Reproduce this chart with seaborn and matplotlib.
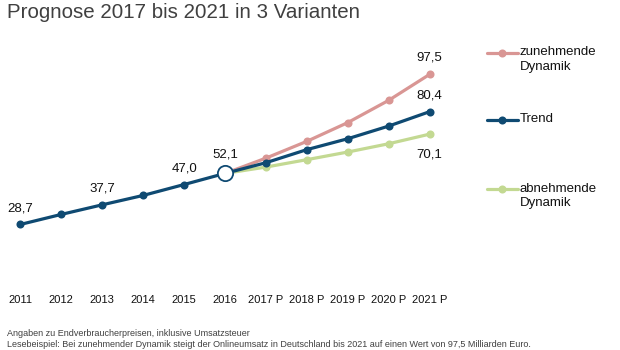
import matplotlib.pyplot as plt
import seaborn as sns
from matplotlib.lines import Line2D

# data (Mrd. Euro)
years = ['2011', '2012', '2013', '2014', '2015', '2016',
         '2017 P', '2018 P', '2019 P', '2020 P', '2021 P']
trend = [28.7, 33.3, 37.7, 42.0, 47.0, 52.1, 57.0, 63.0, 68.0, 73.8, 80.4]
# the two variants start from the 2016 value
zunehmend = [52.1, 59.1, 66.8, 75.4, 85.6, 97.5]
abnehmend = [52.1, 55.0, 58.4, 61.9, 65.7, 70.1]
names = ['zunehmende\nDynamik', 'Trend', 'abnehmende\nDynamik']

PINK = '#D99694'
NAVY = '#0F4A72'
GREEN = '#C3D992'
GREY = '#404040'

sns.set_style('white')
plt.rcParams['font.family'] = ['Liberation Sans', 'DejaVu Sans']

fig = plt.figure(figsize=(6.2, 3.5), dpi=100)
ax = fig.add_axes([0, 63 / 350, 450 / 620, 237 / 350])

x = list(range(len(years)))
xf = x[5:]

def fmt(v):
    return f'{v:.1f}'.replace('.', ',')

line_kw = dict(linewidth=2.3, marker='o', markersize=5.8, markeredgewidth=0)
sns.lineplot(x=xf, y=zunehmend, ax=ax, color=PINK, **line_kw)
sns.lineplot(x=xf, y=abnehmend, ax=ax, color=GREEN, **line_kw)
sns.lineplot(x=x, y=trend, ax=ax, color=NAVY, **line_kw)
# 2016 as open circle (last actual value)
ax.plot(x[5], trend[5], marker='o', markersize=11, markerfacecolor='white',
        markeredgecolor=NAVY, markeredgewidth=1.3, zorder=5)

ax.set_xlim(-0.5, 10.5)
ax.set_ylim(0, 108.7)
ax.set_xticks(x)
ax.set_xticklabels(years, fontsize=8, color='#111111')
ax.tick_params(axis='x', length=0, pad=6)
ax.set_yticks([])
sns.despine(ax=ax, left=True, bottom=True)

# value labels
lab = dict(textcoords='offset points', ha='center', va='center', fontsize=9.5, color='#111111')
for i in [0, 2, 4]:
    ax.annotate(fmt(trend[i]), (x[i], trend[i]), xytext=(0, 11.5), **lab)
ax.annotate(fmt(trend[5]), (x[5], trend[5]), xytext=(0, 13.5), **lab)
ax.annotate(fmt(trend[-1]), (x[-1], trend[-1]), xytext=(0, 12), **lab)
ax.annotate(fmt(zunehmend[-1]), (x[-1], zunehmend[-1]), xytext=(0, 12), **lab)
ax.annotate(fmt(abnehmend[-1]), (x[-1], abnehmend[-1]), xytext=(0, -14.5), **lab)

# legend, drawn by hand to keep the uneven spacing
W, H = 620, 350
for name, col, yh, yt in zip(names, [PINK, NAVY, GREEN], [52.5, 120, 189], [52.5, 120, 189]):
    fig.add_artist(Line2D([487 / W, 502 / W, 518 / W], [1 - yh / H] * 3, color=col,
                          linewidth=2.3, marker='o', markersize=5.8, markeredgewidth=0,
                          markevery=[1], transform=fig.transFigure))
    # anchor the first line of the label on the handle
    fig.text(520 / W, 1 - (yt - 6.5) / H, name, fontsize=9.5, color='#111111', va='top',
             ha='left', linespacing=1.3)

fig.text(7 / W, 1 - 12 / H, 'Prognose 2017 bis 2021 in 3 Varianten', fontsize=14.8,
         color=GREY, va='center', ha='left')
fig.text(7 / W, 1 - 333 / H, 'Angaben zu Endverbraucherpreisen, inklusive Umsatzsteuer',
         fontsize=6.5, color=GREY, va='center', ha='left')
fig.text(7 / W, 1 - 344.5 / H,
         'Lesebeispiel: Bei zunehmender Dynamik steigt der Onlineumsatz in Deutschland bis 2021 '
         'auf einen Wert von 97,5 Milliarden Euro.',
         fontsize=6.5, color=GREY, va='center', ha='left')

fig.savefig('out.png', dpi=100)
